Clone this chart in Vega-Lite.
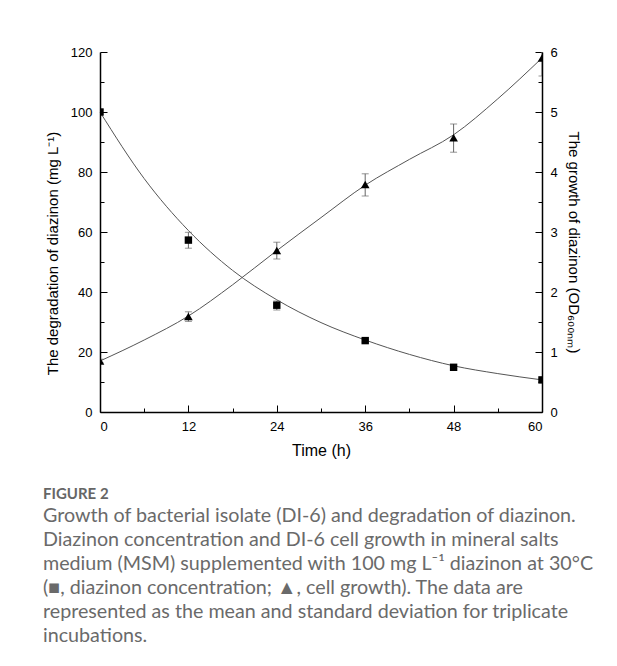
{
  "$schema": "https://vega.github.io/schema/vega-lite/v6.json",
  "width": 442,
  "height": 360,
  "autosize": "none",
  "padding": {"left": 100, "top": 52, "right": 75, "bottom": 254},
  "datasets": {
    "points": [
      {"time": 0, "conc": 100, "conc_lo": 99.3, "conc_hi": 100.7, "od": 0.85, "od_lo": 0.82, "od_hi": 0.88},
      {"time": 12, "conc": 57.3, "conc_lo": 54.6, "conc_hi": 59.9, "od": 1.59, "od_lo": 1.51, "od_hi": 1.67},
      {"time": 24, "conc": 35.6, "conc_lo": 34.0, "conc_hi": 37.0, "od": 2.69, "od_lo": 2.55, "od_hi": 2.83},
      {"time": 36, "conc": 23.8, "conc_lo": 23.3, "conc_hi": 24.3, "od": 3.79, "od_lo": 3.6, "od_hi": 3.97},
      {"time": 48, "conc": 14.9, "conc_lo": 14.4, "conc_hi": 15.4, "od": 4.57, "od_lo": 4.33, "od_hi": 4.8},
      {"time": 60, "conc": 10.7, "conc_lo": 10.2, "conc_hi": 11.2, "od": 5.9, "od_lo": 5.6, "od_hi": 6.2}
    ],
    "fits": [
      {"time": 0, "conc_fit": 100, "od_fit": 0.85},
      {"time": 6, "conc_fit": 77.8, "od_fit": 1.2},
      {"time": 12, "conc_fit": 60.5, "od_fit": 1.6},
      {"time": 18, "conc_fit": 47.2, "od_fit": 2.12},
      {"time": 24, "conc_fit": 37.4, "od_fit": 2.69},
      {"time": 30, "conc_fit": 29.8, "od_fit": 3.24},
      {"time": 36, "conc_fit": 24.0, "od_fit": 3.78},
      {"time": 42, "conc_fit": 19.2, "od_fit": 4.21},
      {"time": 48, "conc_fit": 15.4, "od_fit": 4.62},
      {"time": 54, "conc_fit": 12.8, "od_fit": 5.22},
      {"time": 60, "conc_fit": 10.7, "od_fit": 5.9}
    ]
  },
  "title": {
    "text": "FIGURE 2",
    "subtitle": [
      "Growth of bacterial isolate (DI-6) and degradation of diazinon.",
      "Diazinon concentration and DI-6 cell growth in mineral salts",
      "medium (MSM) supplemented with 100 mg L⁻¹ diazinon at 30°C",
      "(■, diazinon concentration; ▲, cell growth). The data are",
      "represented as the mean and standard deviation for triplicate",
      "incubations."
    ],
    "orient": "bottom",
    "anchor": "start",
    "frame": "group",
    "dx": -57,
    "offset": 29,
    "font": "Lato",
    "fontSize": 15,
    "fontWeight": "bold",
    "color": "#666666",
    "subtitleFont": "Lato",
    "subtitleFontSize": 19.7,
    "subtitleColor": "#6a6a6a",
    "subtitleLineHeight": 24,
    "subtitlePadding": 4
  },
  "layer": [
    {
      "layer": [
        {
          "data": {"name": "fits"},
          "mark": {"type": "line", "interpolate": "monotone", "color": "#555555", "strokeWidth": 1},
          "encoding": {
            "x": {
              "field": "time", "type": "quantitative",
              "scale": {"domain": [0, 60], "nice": false},
              "axis": {"orient": "bottom", "title": "Time (h)", "titleFontSize": 16, "values": [0, 12, 24, 36, 48, 60], "tickSize": -7, "labelPadding": 15, "titlePadding": 9}
            },
            "y": {
              "field": "conc_fit", "type": "quantitative",
              "scale": {"domain": [0, 120], "nice": false},
              "axis": {"orient": "left", "title": null, "values": [10, 30, 50, 70, 90, 110], "labels": false, "domain": false, "tickSize": -4}
            }
          }
        },
        {
          "data": {"name": "points"},
          "mark": {"type": "errorbar", "color": "#666666", "ticks": {"size": 7}, "clip": true},
          "encoding": {
            "x": {
              "field": "time", "type": "quantitative",
              "axis": {"orient": "bottom", "title": "Time (h)", "titleFontSize": 16, "values": [0, 12, 24, 36, 48, 60], "tickSize": -7, "labelPadding": 15, "titlePadding": 9}
            },
            "y": {"field": "conc_lo", "type": "quantitative", "axis": null},
            "y2": {"field": "conc_hi"}
          }
        },
        {
          "data": {"name": "points"},
          "mark": {"type": "point", "shape": "square", "filled": true, "color": "#000000", "opacity": 1, "size": 55, "clip": true},
          "encoding": {
            "x": {
              "field": "time", "type": "quantitative",
              "axis": {"orient": "bottom", "title": "Time (h)", "titleFontSize": 16, "values": [0, 12, 24, 36, 48, 60], "tickSize": -7, "labelPadding": 15, "titlePadding": 9}
            },
            "y": {
              "field": "conc", "type": "quantitative",
              "axis": {"orient": "left", "title": "The degradation of diazinon (mg L⁻¹)", "values": [0, 20, 40, 60, 80, 100, 120], "tickSize": -7, "labelPadding": 15, "titlePadding": 10, "titleY": 201}
            }
          }
        }
      ],
      "resolve": {"axis": {"y": "independent"}}
    },
    {
      "layer": [
        {
          "data": {"name": "fits"},
          "mark": {"type": "line", "interpolate": "monotone", "color": "#555555", "strokeWidth": 1},
          "encoding": {
            "x": {
              "field": "time", "type": "quantitative",
              "axis": {"orient": "bottom", "title": null, "values": [6, 18, 30, 42, 54], "labels": false, "domain": false, "tickSize": -4}
            },
            "y": {
              "field": "od_fit", "type": "quantitative",
              "scale": {"domain": [0, 6], "nice": false},
              "axis": {"orient": "right", "title": null, "values": [0.5, 1.5, 2.5, 3.5, 4.5, 5.5], "labels": false, "domain": false, "tickSize": -4}
            }
          }
        },
        {
          "data": {"name": "points"},
          "mark": {"type": "errorbar", "color": "#666666", "ticks": {"size": 7}, "clip": true},
          "encoding": {
            "x": {
              "field": "time", "type": "quantitative",
              "axis": {"orient": "bottom", "title": null, "values": [6, 18, 30, 42, 54], "labels": false, "domain": false, "tickSize": -4}
            },
            "y": {"field": "od_lo", "type": "quantitative", "axis": null},
            "y2": {"field": "od_hi"}
          }
        },
        {
          "data": {"name": "points"},
          "mark": {"type": "point", "shape": "triangle-up", "filled": true, "color": "#000000", "opacity": 1, "size": 75, "clip": true},
          "encoding": {
            "x": {
              "field": "time", "type": "quantitative",
              "axis": {"orient": "bottom", "title": null, "values": [6, 18, 30, 42, 54], "labels": false, "domain": false, "tickSize": -4}
            },
            "y": {
              "field": "od", "type": "quantitative",
              "axis": {"orient": "right", "title": "The growth of diazinon (OD₆₀₀ₙₘ)", "values": [0, 1, 2, 3, 4, 5, 6], "format": "d", "tickSize": -7, "labelPadding": 15, "titlePadding": 8, "titleY": 190}
            }
          }
        }
      ],
      "resolve": {"axis": {"y": "independent"}}
    }
  ],
  "resolve": {"scale": {"y": "independent"}, "axis": {"x": "independent"}},
  "config": {
    "view": {"stroke": null},
    "axis": {
      "grid": false,
      "labelFont": "Liberation Sans",
      "titleFont": "Liberation Sans",
      "labelFontSize": 13,
      "titleFontSize": 15,
      "titleFontWeight": "normal",
      "labelColor": "#000000",
      "titleColor": "#000000",
      "domainColor": "#000000",
      "domainWidth": 1.5,
      "tickColor": "#000000",
      "tickWidth": 1
    }
  }
}
